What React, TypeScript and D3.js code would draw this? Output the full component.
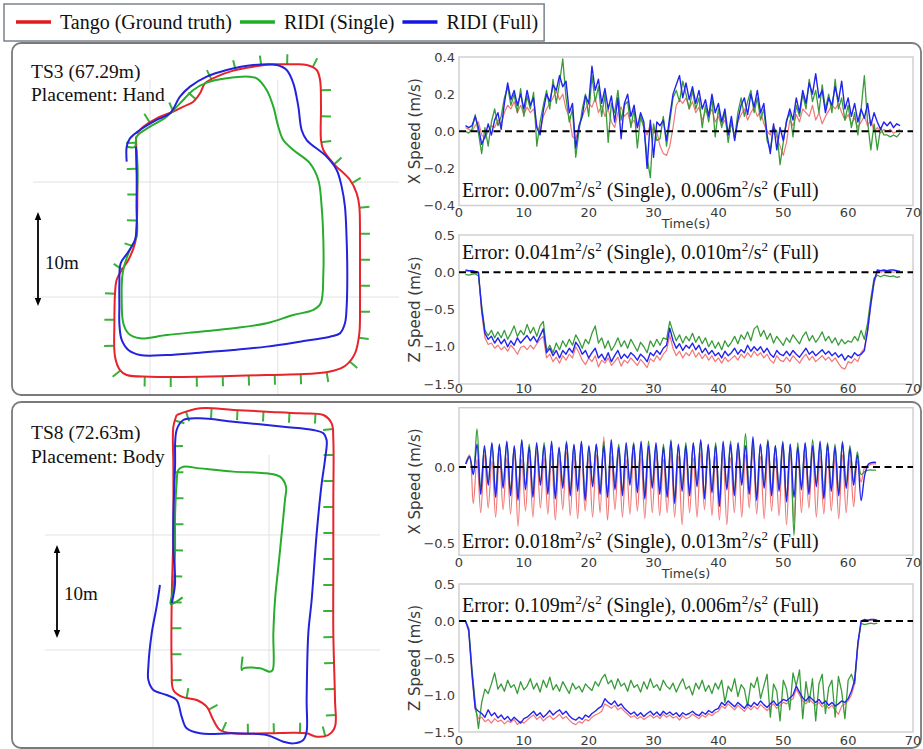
import React, { useEffect, useRef } from "react";
import * as d3 from "d3";

type Pt = [number, number];

// ---------------- legend ----------------
const LEGEND_LABELS = ["Tango (Ground truth)", "RIDI (Single)", "RIDI (Full)"];

// ---------------- trajectories (metres) ----------------
const TS3_TITLE = "TS3 (67.29m)";
const TS3_PLACEMENT = "Placement: Hand";
const TS8_TITLE = "TS8 (72.63m)";
const TS8_PLACEMENT = "Placement: Body";
const SCALE_LABEL = "10m";
const SCALE_BAR_M = 10;

const TS3_TANGO: Pt[] = [
  [-1.49, 17.06], [-1.42, 14.22], [-1.35, 11.38], [-1.42, 7.48], [-1.6, 5.71], [-2.3, 3.94], [-3.01, 2.87],
  [-3.55, 1.81], [-3.72, 0.39], [-3.79, -2.8], [-3.72, -6.35], [-3.19, -7.77], [-2.48, -8.3], [0, -8.48],
  [5.32, -8.48], [12.41, -8.3], [17.73, -8.12], [19.5, -7.84], [20.74, -7.34], [21.81, -5.99], [22.27, -3.87],
  [22.34, -1.03], [22.34, 2.52], [22.34, 6.06], [22.27, 9.61], [21.99, 11.03], [21.28, 12.45], [19.5, 14.22],
  [18.44, 15.64], [18.19, 16.7], [18.19, 20.25], [18.09, 23.09], [17.73, 24.15], [16.67, 24.68], [15.25, 24.75],
  [13.12, 24.75], [10.99, 24.5], [8.87, 24.08], [7.09, 23.44], [5.85, 22.73], [5.32, 21.67], [4.61, 20.78],
  [3.55, 20.25], [2.48, 19.72], [0.71, 19.01], [-0.71, 18.12], [-1.42, 17.41],
];
const TS3_SINGLE: Pt[] = [
  [-2.48, 15.99], [-1.6, 15.99], [-1.42, 17.06], [0, 18.12], [1.77, 19.18], [3.19, 20.6], [4.61, 22.02],
  [6.03, 22.8], [8.16, 23.26], [10.46, 23.44], [11.35, 23.26], [12.41, 22.02], [13.12, 20.25], [13.65, 18.12],
  [14.18, 16.7], [15.25, 15.64], [17.02, 14.22], [17.91, 12.45], [18.26, 9.61], [18.44, 6.06], [18.44, 2.52],
  [18.16, -0.67], [17.38, -1.38], [15.25, -1.91], [12.41, -2.8], [8.87, -3.33], [5.32, -3.69], [1.77, -4.04],
  [-1.06, -4.4], [-2.3, -3.87], [-2.84, -2.8], [-3.01, -0.32], [-2.91, 2.52], [-2.3, 4.65], [-1.77, 5.71],
  [-1.42, 6.42], [-1.42, 9.61], [-1.31, 13.16], [-1.42, 15.64],
];
const TS3_FULL: Pt[] = [
  [-2.48, 14.4], [-2.48, 15.99], [-2.13, 16.88], [-1.06, 17.77], [0.71, 18.83], [2.13, 19.54], [3.19, 21.31],
  [4.26, 22.38], [6.03, 23.44], [8.16, 24.15], [10.99, 24.68], [13.48, 24.68], [14.54, 24.15], [15.25, 22.73],
  [15.78, 20.25], [16.13, 17.77], [16.67, 16.7], [18.79, 14.93], [19.86, 13.51], [20.39, 11.74], [20.74, 9.61],
  [20.92, 6.06], [20.99, 2.52], [20.92, -1.03], [20.74, -2.8], [20.21, -3.87], [19.15, -4.22], [15.96, -4.75],
  [12.41, -5.28], [8.87, -5.64], [5.32, -5.92], [1.77, -6.17], [-1.06, -6.17], [-2.3, -5.64], [-3.01, -4.57],
  [-3.26, -2.8], [-3.26, -1.03], [-3.26, 1.45], [-3.12, 3.58], [-2.3, 4.82], [-1.6, 6.06], [-1.42, 7.48],
  [-1.42, 10.32], [-1.42, 13.16], [-1.49, 15.99],
];
const TS3_GRID_X = [0, 13.6];
const TS3_GRID_Y = [0, 12.23];
const TS3_BAR_START = -0.96;

const TS8_TANGO: Pt[] = [
  [2.54, 25.27], [5.05, 25.99], [8.64, 25.81], [12.22, 25.63], [15.81, 25.45], [18.32, 25.27], [19.21, 24.37],
  [19.39, 22.58], [19.39, 16.13], [19.39, 8.96], [19.39, 1.79], [19.57, -5.38], [19.57, -8.24], [18.85, -9.14],
  [17.6, -9.32], [16.52, -8.96], [15.09, -8.89], [12.22, -8.96], [8.64, -8.96], [7.2, -8.6], [6.49, -7.53],
  [5.77, -6.09], [4.7, -5.38], [3.08, -5.02], [2.19, -4.3], [2.01, -1.79], [2.01, 5.38], [2.19, 12.54],
  [2.19, 19.71], [2.19, 24.01], [2.54, 25.27],
];
const TS8_SINGLE: Pt[] = [
  [3.19, 5.66], [1.9, 4.95], [2.19, 6.45], [2.37, 10.75], [2.37, 14.34], [2.54, 17.92], [2.72, 19.35],
  [3.26, 19.71], [5.05, 19.53], [8.64, 19.18], [12.22, 19.0], [13.66, 18.64], [14.3, 17.56], [14.19, 16.13],
  [13.84, 12.54], [13.48, 8.96], [13.12, 5.38], [12.94, 1.79], [12.87, -2.15], [12.58, -2.33], [11.51, -1.97],
  [9.71, -1.97], [9.53, -2.15], [9.64, -0.72],
];
const TS8_FULL: Pt[] = [
  [0.75, 6.99], [0.39, 4.66], [-0.14, 1.79], [-0.5, -1.79], [-0.5, -3.23], [0.04, -4.3], [1.47, -4.84],
  [2.54, -5.38], [3.08, -7.17], [3.62, -8.42], [5.05, -8.96], [8.64, -8.96], [12.22, -9.14], [14.01, -9.86],
  [15.09, -10.04], [16.16, -9.68], [16.52, -8.78], [16.52, -5.38], [16.7, 1.79], [17.06, 5.38], [17.6, 12.54],
  [18.14, 17.92], [18.49, 20.43], [18.67, 22.58], [18.32, 23.3], [17.24, 23.66], [14.01, 24.01], [8.64, 24.55],
  [5.05, 24.91], [3.26, 24.73], [2.54, 23.66], [2.37, 19.71], [2.19, 14.34], [2.19, 10.75], [2.37, 7.17],
  [2.01, 5.02],
];
const TS8_GRID_X = [0, 12.47];
const TS8_GRID_Y = [0, 12.37];
const TS8_BAR_START = 1.29;

// ---------------- speed plots ----------------
const TIME_TICKS = [0, 10, 20, 30, 40, 50, 60, 70];
const TIME_LABEL = "Time(s)";

// TS3 X speed, t = 1.0 .. 68.0 every 0.5 s
const TS3_X_T0 = 1.0;
const TS3_X_DT = 0.5;
const TS3_X_TANGO = [
  0.02, 0.01, 0.0, 0.03, 0.05, -0.02, -0.04, 0.0, 0.03, 0.02,
  0.06, 0.04, 0.1, 0.14, 0.12, 0.16, 0.1, 0.14, 0.09, 0.13,
  0.1, 0.12, 0.03, 0.0, 0.08, 0.12, 0.15, 0.18, 0.22, 0.17,
  0.2, 0.12, 0.08, -0.03, -0.04, 0.02, 0.08, 0.12, 0.15, 0.13,
  0.18, 0.1, 0.14, 0.08, 0.12, 0.05, 0.02, 0.1, 0.13, 0.08,
  0.1, 0.04, 0.06, 0.02, 0.07, 0.03, -0.02, 0.04, -0.01, 0.0,
  -0.08, -0.12, -0.13, -0.08, 0.02, 0.14, 0.17, 0.15, 0.18, 0.12,
  0.16, 0.1, 0.13, 0.06, 0.11, 0.08, 0.12, 0.05, 0.08, 0.03,
  0.06, 0.0, 0.04, -0.02, 0.05, 0.09, 0.12, 0.06, 0.1, 0.13,
  0.08, 0.11, 0.04, 0.0, -0.02, 0.03, -0.03, -0.08, -0.13, -0.06,
  0.06, 0.03, 0.09, 0.05, 0.12, 0.1, 0.08, 0.14, 0.06, 0.1,
  0.04, 0.08, 0.11, 0.14, 0.12, 0.15, 0.1, 0.06, 0.09, 0.04,
  0.07, 0.02, 0.05, 0.08, 0.03, 0.06, 0.0, 0.02, -0.01, 0.01,
  0.0, 0.01, -0.01, 0.0, 0.01,
];
const TS3_X_SINGLE = [
  0.0, -0.01, 0.01, 0.09, -0.01, -0.12, 0.02, -0.08, 0.05, 0.12,
  0.03, 0.08, 0.18, 0.24, 0.14, 0.2, 0.1, 0.23, 0.08, 0.19,
  0.12, 0.21, -0.08, 0.05, 0.14, 0.22, 0.12, 0.28, 0.15, 0.26,
  0.39, 0.18, 0.05, 0.12, -0.14, 0.0, 0.12, 0.2, 0.08, 0.3,
  0.16, 0.24, 0.08, 0.2, -0.06, 0.15, 0.1, 0.22, 0.06, 0.14,
  0.16, 0.02, 0.12, -0.09, 0.08, 0.02, -0.14, -0.25, 0.04, -0.05,
  -0.04, 0.08, -0.08, 0.05, 0.18, 0.22, 0.16, 0.27, 0.2, 0.12,
  0.22, 0.12, 0.18, 0.02, 0.14, 0.05, 0.18, -0.03, 0.12, 0.02,
  0.1, -0.06, 0.05, -0.04, 0.1, 0.18, 0.08, 0.16, 0.22, 0.1,
  0.18, 0.06, 0.12, -0.05, -0.1, 0.02, 0.0, -0.18, -0.06, 0.06,
  0.1, -0.03, 0.14, 0.08, 0.2, 0.12, 0.28, 0.16, 0.22, 0.1,
  0.25, 0.12, 0.2, 0.1, 0.28, 0.12, 0.18, 0.06, 0.14, 0.02,
  0.1, -0.02, 0.12, 0.3, 0.05, -0.1, 0.04, -0.1, 0.02, -0.02,
  -0.02, -0.03, -0.02, -0.03, -0.01,
];
const TS3_X_FULL = [
  0.03, 0.02, 0.03, 0.08, 0.02, -0.07, -0.03, 0.04, -0.02, 0.06,
  0.1, 0.01, 0.15, 0.26, 0.17, 0.22, 0.14, 0.2, 0.12, 0.22,
  0.14, 0.18, 0.02, -0.02, 0.11, 0.2, 0.16, 0.25, 0.22, 0.3,
  0.24, 0.27, 0.1, 0.15, -0.09, 0.03, 0.08, 0.19, 0.15, 0.35,
  0.22, 0.28, 0.15, 0.23, 0.12, 0.19, 0.05, 0.18, -0.04, 0.15,
  0.2, 0.08, 0.14, 0.02, 0.1, 0.05, -0.2, 0.06, -0.14, 0.05,
  0.03, 0.06, -0.05, 0.08, 0.2, 0.25, 0.3, 0.18, 0.26, 0.17,
  0.24, 0.15, 0.22, 0.12, 0.17, 0.08, 0.2, 0.1, 0.15, 0.05,
  0.12, -0.02, 0.08, -0.05, 0.06, 0.14, 0.18, 0.09, 0.2, 0.13,
  0.22, 0.1, 0.15, -0.02, -0.12, 0.04, -0.1, 0.02, -0.05, 0.05,
  0.12, 0.06, 0.18, 0.1, 0.22, 0.15, 0.26, 0.2, 0.31, 0.18,
  0.22, 0.1, 0.18, 0.14, 0.24, 0.16, 0.27, 0.12, 0.18, 0.08,
  0.15, 0.05, 0.12, 0.07, 0.15, 0.03, 0.1, 0.05, 0.01, 0.05,
  0.03, 0.05, 0.02, 0.04, 0.03,
];

// TS3 Z speed, t = 1.0 .. 68.0 every 0.5 s
const TS3_Z_T0 = 1.0;
const TS3_Z_DT = 0.5;
const TS3_Z_TANGO = [
  0.01, 0.02, 0.01, 0.0, -0.02, -0.55, -0.88, -0.97, -0.95, -1.02,
  -0.98, -1.04, -1.0, -1.06, -0.98, -1.03, -1.1, -1.01, -0.99, -1.04,
  -0.98, -1.03, -0.96, -0.9, -0.86, -1.15, -1.1, -1.2, -1.14, -1.22,
  -1.12, -1.18, -1.1, -1.15, -1.0, -1.08, -1.18, -1.24, -1.15, -1.2,
  -1.12, -1.27, -1.18, -1.22, -1.15, -1.25, -1.2, -1.14, -1.26, -1.18,
  -1.22, -1.15, -1.2, -1.25, -1.17, -1.22, -1.28, -1.16, -1.2, -1.12,
  -1.18, -1.1, -1.05, -0.85, -1.02, -1.12, -1.06, -1.15, -1.08, -1.12,
  -1.04, -1.14, -1.08, -1.16, -1.1, -1.18, -1.12, -1.2, -1.15, -1.22,
  -1.14, -1.2, -1.16, -1.12, -1.18, -1.1, -1.15, -1.08, -1.14, -1.06,
  -1.12, -1.08, -1.15, -1.1, -1.18, -1.22, -1.12, -1.18, -1.2, -1.14,
  -1.2, -1.12, -1.17, -1.22, -1.15, -1.1, -1.18, -1.13, -1.2, -1.16,
  -1.12, -1.18, -1.14, -1.2, -1.15, -1.22, -1.28, -1.3, -1.2, -1.22,
  -1.16, -1.2, -1.08, -1.02, -0.8, -0.45, -0.15, 0.01, 0.0, 0.01,
  0.0, 0.01, 0.0, 0.01, 0.0,
];
const TS3_Z_SINGLE = [
  -0.03, -0.04, -0.03, -0.02, -0.05, -0.45, -0.78, -0.85, -0.78, -0.88,
  -0.8, -0.88, -0.78, -0.9, -0.82, -0.72, -0.86, -0.78, -0.84, -0.7,
  -0.82, -0.74, -0.86, -0.72, -0.66, -1.05, -0.98, -1.08, -0.95, -1.04,
  -0.92, -1.0, -0.9, -0.98, -0.84, -0.92, -1.02, -0.9, -0.96, -0.82,
  -0.72, -0.95, -0.88, -1.02, -0.92, -1.05, -0.98, -0.88, -1.0, -0.92,
  -1.02, -0.9, -0.98, -1.06, -0.94, -1.0, -1.08, -0.92, -1.0, -0.9,
  -0.98, -0.88, -0.9, -0.66, -0.8, -0.92, -0.84, -0.95, -0.86, -0.92,
  -0.82, -0.94, -0.86, -0.96, -0.88, -1.0, -0.92, -1.02, -0.94, -1.04,
  -0.92, -1.0, -0.94, -0.86, -0.96, -0.84, -0.9, -0.8, -0.92, -0.76,
  -0.72, -0.86, -0.78, -0.9, -0.82, -0.95, -0.86, -0.92, -0.98, -0.88,
  -0.94, -0.84, -0.9, -0.96, -0.86, -0.8, -0.92, -0.85, -0.94, -0.88,
  -0.8, -0.92, -0.86, -0.95, -0.88, -0.98, -0.9, -0.96, -0.92, -0.94,
  -0.86, -0.92, -0.78, -0.9, -0.68, -0.35, -0.08, -0.04, -0.06, -0.04,
  -0.05, -0.06, -0.05, -0.07, -0.06,
];
const TS3_Z_FULL = [
  0.03, 0.02, 0.02, 0.01, 0.0, -0.5, -0.82, -0.9, -0.86, -0.95,
  -0.88, -0.96, -0.9, -1.0, -0.92, -0.98, -0.88, -0.95, -0.9, -0.85,
  -0.92, -0.86, -0.94, -0.85, -0.76, -1.08, -1.02, -1.12, -1.05, -1.15,
  -1.05, -1.1, -1.02, -1.08, -0.94, -1.0, -1.1, -1.05, -1.15, -1.08,
  -1.02, -1.15, -1.1, -1.18, -1.08, -1.2, -1.12, -1.05, -1.16, -1.1,
  -1.15, -1.08, -1.12, -1.18, -1.1, -1.14, -1.2, -1.08, -1.12, -1.05,
  -1.1, -1.02, -0.98, -0.75, -0.92, -1.02, -0.96, -1.05, -0.98, -1.02,
  -0.95, -1.04, -0.98, -1.08, -1.02, -1.1, -1.05, -1.12, -1.08, -1.15,
  -1.06, -1.12, -1.08, -1.02, -1.1, -1.04, -1.08, -0.98, -1.06, -1.0,
  -1.05, -1.0, -1.08, -1.02, -1.1, -1.14, -1.05, -1.1, -1.12, -1.06,
  -1.12, -1.05, -1.1, -1.14, -1.08, -1.02, -1.1, -1.06, -1.12, -1.08,
  -1.04, -1.1, -1.06, -1.12, -1.08, -1.14, -1.1, -1.18, -1.12, -1.15,
  -1.08, -1.12, -1.1, -1.05, -0.78, -0.42, -0.12, 0.03, 0.02, 0.03,
  0.02, 0.03, 0.03, 0.02, 0.01,
];

// TS8 X speed: swing extremes, t = 1.05 + 0.575 i
const TS8_X_T0 = 1.05;
const TS8_X_DT = 0.575;
const TS8_X_TANGO = [
  0.03, 0.08,
  -0.24, 0.05, -0.3, 0.08, -0.27, 0.04, -0.33, 0.09, -0.28, 0.06, -0.31, 0.1, -0.39, 0.05, -0.29, 0.08, -0.33, 0.11, -0.27, 0.06,
  -0.31, 0.09, -0.35, 0.05, -0.28, 0.1, -0.32, 0.07, -0.34, 0.12, -0.29, 0.06, -0.33, 0.08, -0.3, 0.2, -0.35, 0.07, -0.28, 0.09,
  -0.33, 0.05, -0.31, 0.1, -0.29, 0.06, -0.34, 0.11, -0.3, 0.08, -0.32, 0.05, -0.3, 0.09, -0.33, 0.07, -0.38, 0.1, -0.3, 0.06,
  -0.33, 0.09, -0.28, 0.12, -0.32, 0.07, -0.35, 0.1, -0.38, 0.06, -0.3, 0.11, -0.33, 0.08, -0.27, 0.12, -0.31, 0.07, -0.34, 0.1,
  -0.29, 0.06, -0.32, 0.14, -0.38, 0.09, -0.36, 0.12, -0.3, 0.08, -0.27, 0.1, -0.33, 0.07, -0.31, 0.09, -0.29, 0.06, -0.34, 0.08,
  -0.3, 0.05, -0.26, 0.04,
  -0.1, 0.0, 0.01, 0.02, 0.02,
];
const TS8_X_SINGLE = [
  0.02, 0.06,
  -0.04, 0.25, -0.14, 0.12, -0.1, 0.15, -0.16, 0.14, -0.11, 0.16, -0.15, 0.13, -0.18, 0.17, -0.12, 0.15, -0.17, 0.14, -0.1, 0.16,
  -0.15, 0.15, -0.18, 0.12, -0.11, 0.17, -0.16, 0.14, -0.13, 0.16, -0.19, 0.13, -0.1, 0.15, -0.15, 0.17, -0.17, 0.14, -0.12, 0.15,
  -0.16, 0.13, -0.1, 0.16, -0.14, 0.15, -0.18, 0.17, -0.12, 0.14, -0.15, 0.15, -0.17, 0.18, -0.2, 0.14, -0.13, 0.16, -0.16, 0.15,
  -0.11, 0.17, -0.18, 0.14, -0.15, 0.16, -0.22, 0.15, -0.13, 0.17, -0.16, 0.14, -0.1, 0.22, -0.15, 0.16, -0.19, 0.15, -0.12, 0.18,
  -0.16, 0.14, -0.14, 0.17, -0.2, 0.15, -0.45, 0.16, -0.13, 0.15, -0.16, 0.18, -0.11, 0.14, -0.18, 0.16, -0.14, 0.15, -0.17, 0.17,
  -0.12, 0.14, -0.1, 0.1,
  -0.05, -0.03, -0.02, -0.02, -0.02,
];
const TS8_X_FULL = [
  0.02, 0.07,
  -0.05, 0.15, -0.18, 0.14, -0.12, 0.16, -0.2, 0.15, -0.14, 0.17, -0.19, 0.14, -0.22, 0.18, -0.15, 0.13, -0.2, 0.16, -0.12, 0.14,
  -0.18, 0.17, -0.21, 0.13, -0.14, 0.16, -0.19, 0.15, -0.16, 0.17, -0.22, 0.14, -0.13, 0.15, -0.18, 0.14, -0.2, 0.18, -0.15, 0.13,
  -0.19, 0.16, -0.12, 0.15, -0.17, 0.17, -0.21, 0.14, -0.14, 0.16, -0.18, 0.13, -0.2, 0.17, -0.24, 0.15, -0.16, 0.14, -0.19, 0.16,
  -0.13, 0.18, -0.21, 0.15, -0.17, 0.14, -0.26, 0.17, -0.15, 0.15, -0.19, 0.16, -0.12, 0.14, -0.18, 0.2, -0.22, 0.15, -0.14, 0.17,
  -0.19, 0.14, -0.16, 0.16, -0.23, 0.15, -0.2, 0.13, -0.15, 0.16, -0.18, 0.14, -0.13, 0.17, -0.21, 0.15, -0.16, 0.13, -0.19, 0.16,
  -0.14, 0.12, -0.12, 0.08,
  -0.22, -0.05, 0.02, 0.03, 0.03,
];

// TS8 Z speed, t = 0.5 .. 64.5 every 0.5 s
const TS8_Z_T0 = 0.5;
const TS8_Z_DT = 0.5;
const TS8_Z_TANGO = [
  0.0, 0.0, -0.15, -0.75, -1.2, -1.32, -1.3, -1.36, -1.33, -1.38,
  -1.32, -1.36, -1.34, -1.39, -1.35, -1.37, -1.33, -1.4, -1.36, -1.38,
  -1.34, -1.3, -1.27, -1.33, -1.29, -1.35, -1.31, -1.28, -1.33, -1.3,
  -1.26, -1.32, -1.29, -1.34, -1.38, -1.4, -1.36, -1.38, -1.33, -1.35,
  -1.3, -1.27, -1.25, -1.22, -1.12, -1.15, -1.18, -1.14, -1.2, -1.17,
  -1.22, -1.26, -1.3, -1.28, -1.32, -1.29, -1.33, -1.3, -1.27, -1.31,
  -1.28, -1.32, -1.26, -1.3, -1.27, -1.31, -1.29, -1.34, -1.28, -1.32,
  -1.3, -1.26, -1.29, -1.32, -1.27, -1.3, -1.25, -1.28, -1.24, -1.22,
  -1.15, -1.18, -1.12, -1.16, -1.2, -1.14, -1.18, -1.22, -1.16, -1.2,
  -1.15, -1.19, -1.13, -1.17, -1.21, -1.16, -1.12, -1.18, -1.14, -1.1,
  -1.12, -1.08, -1.05, -0.92, -1.0, -1.08, -1.12, -1.06, -1.1, -1.14,
  -1.1, -1.16, -1.12, -1.18, -1.14, -1.2, -1.26, -1.15, -1.12, -1.08,
  -1.0, -0.85, -0.35, 0.0, 0.01, 0.0, 0.01, 0.01, 0.0,
];
const TS8_Z_SINGLE = [
  0.0, 0.0, -0.1, -0.65, -1.1, -1.45, -1.1, -0.92, -0.98, -0.85,
  -0.7, -0.92, -0.85, -0.95, -0.8, -0.9, -0.86, -0.98, -0.82, -0.93,
  -0.88, -0.78, -0.92, -0.84, -0.96, -0.8, -0.9, -0.76, -0.93, -0.86,
  -0.95, -0.82, -0.9, -0.98, -0.84, -0.92, -0.88, -0.96, -0.85, -0.9,
  -0.94, -0.82, -0.88, -0.78, -0.72, -0.85, -0.8, -0.92, -0.78, -0.88,
  -0.84, -0.95, -0.8, -0.9, -0.86, -0.96, -0.82, -0.92, -0.78, -0.9,
  -0.86, -0.94, -0.8, -0.88, -0.92, -0.84, -0.96, -0.86, -0.78, -0.92,
  -0.88, -1.0, -0.84, -0.92, -0.8, -0.95, -0.87, -0.98, -0.84, -0.92,
  -0.8, -1.1, -0.88, -0.95, -0.78, -1.02, -0.86, -0.92, -1.15, -0.84,
  -0.9, -0.76, -1.05, -0.88, -0.72, -1.3, -0.85, -0.95, -1.35, -0.8,
  -0.92, -1.2, -0.7, -0.88, -0.66, -1.32, -0.82, -1.1, -0.78, -1.35,
  -0.85, -0.72, -1.25, -0.9, -0.8, -1.3, -0.75, -0.95, -1.32, -0.8,
  -0.72, -0.85, -0.3, -0.03, -0.05, -0.04, -0.03, -0.04, -0.03,
];
const TS8_Z_FULL = [
  0.0, 0.0, -0.12, -0.7, -1.18, -1.22, -1.25, -1.3, -1.2, -1.28,
  -1.24, -1.31, -1.27, -1.33, -1.29, -1.35, -1.3, -1.34, -1.38, -1.32,
  -1.3, -1.26, -1.22, -1.28, -1.24, -1.3, -1.26, -1.21, -1.27, -1.23,
  -1.2, -1.26, -1.22, -1.28, -1.32, -1.34, -1.3, -1.33, -1.27, -1.3,
  -1.25, -1.22, -1.18, -1.15, -1.05, -1.1, -1.13, -1.08, -1.15, -1.12,
  -1.18, -1.22, -1.26, -1.23, -1.28, -1.24, -1.29, -1.25, -1.22, -1.27,
  -1.23, -1.28, -1.22, -1.26, -1.23, -1.27, -1.24, -1.29, -1.24, -1.27,
  -1.25, -1.22, -1.26, -1.28, -1.23, -1.26, -1.21, -1.24, -1.2, -1.18,
  -1.1, -1.14, -1.08, -1.12, -1.16, -1.1, -1.14, -1.18, -1.12, -1.16,
  -1.1, -1.14, -1.08, -1.13, -1.17, -1.12, -1.08, -1.14, -1.1, -1.06,
  -1.08, -1.04, -1.0, -0.88, -0.96, -1.04, -1.08, -1.02, -1.06, -1.1,
  -1.06, -1.12, -1.08, -1.14, -1.1, -1.15, -1.12, -1.08, -1.1, -1.05,
  -0.95, -0.8, -0.3, 0.0, 0.02, 0.01, 0.02, 0.02, 0.01,
];

const X_SPEED_TICKS_TS3 = [-0.4, -0.2, 0, 0.2, 0.4];
const Z_SPEED_TICKS = [-1.5, -1.0, -0.5, 0, 0.5];
const X_SPEED_TICKS_TS8 = [-0.5, 0];
const X_LABEL = "X Speed (m/s)";
const Z_LABEL = "Z Speed (m/s)";
const ERR_TS3_X = ["0.007", "0.006"];
const ERR_TS3_Z = ["0.041", "0.010"];
const ERR_TS8_X = ["0.018", "0.013"];
const ERR_TS8_Z = ["0.109", "0.006"];

// ---------------- styling ----------------
const SERIF = "'Liberation Serif', 'Times New Roman', serif";
const SANS = "'DejaVu Sans', sans-serif";
const LEG_COLORS = ["#e3191c", "#1faf24", "#1414e3"];
const TRAJ_COLORS = { tango: "#e8232a", single: "#27ad2c", full: "#2323dd", tick: "#3bb03b" };
const TS_COLORS = { tango: "#f06868", single: "#3a9b3a", full: "#2323f0" };

type Sel = d3.Selection<any, unknown, null, undefined>;

function drawTrajectory(root: Sel, cfg: any) {
  const g = root.append("g");
  const x = d3.scaleLinear().domain([0, 10]).range([cfg.ox, cfg.ox + cfg.px10]);
  const y = d3.scaleLinear().domain([0, 10]).range([cfg.oy, cfg.oy - cfg.px10]);
  cfg.gridX.forEach((v: number) =>
    g.append("line").attr("x1", x(v)).attr("x2", x(v)).attr("y1", cfg.gridTop).attr("y2", cfg.gridBottom)
      .attr("stroke", "#e2e2e2").attr("stroke-width", 1));
  cfg.gridY.forEach((v: number) =>
    g.append("line").attr("y1", y(v)).attr("y2", y(v)).attr("x1", cfg.gridLeft).attr("x2", cfg.gridRight)
      .attr("stroke", "#e2e2e2").attr("stroke-width", 1));

  const line = d3.line<Pt>().x((d) => x(d[0])).y((d) => y(d[1])).curve(d3.curveCatmullRom.alpha(0.5));
  const tickG = g.append("g");
  const red = g.append("path").attr("d", line(cfg.tango) as string).attr("fill", "none")
    .attr("stroke", TRAJ_COLORS.tango).attr("stroke-width", 2).attr("stroke-linejoin", "round");
  g.append("path").attr("d", line(cfg.single) as string).attr("fill", "none")
    .attr("stroke", TRAJ_COLORS.single).attr("stroke-width", 2).attr("stroke-linejoin", "round");
  g.append("path").attr("d", line(cfg.full) as string).attr("fill", "none")
    .attr("stroke", TRAJ_COLORS.full).attr("stroke-width", 2).attr("stroke-linejoin", "round");

  const node = red.node() as SVGPathElement;
  const L = node.getTotalLength();
  for (let s = cfg.tickOffset; s < L - 4; s += 26) {
    const p = node.getPointAtLength(s);
    const a = node.getPointAtLength(Math.max(0, s - 2));
    const b = node.getPointAtLength(Math.min(L, s + 2));
    let tx = b.x - a.x, ty = b.y - a.y;
    const n = Math.hypot(tx, ty) || 1;
    tx /= n; ty /= n;
    const nx = -ty, ny = tx;
    tickG.append("line").attr("x1", p.x).attr("y1", p.y).attr("x2", p.x + nx * 10).attr("y2", p.y + ny * 10)
      .attr("stroke", TRAJ_COLORS.tick).attr("stroke-width", 2);
  }

  // scale bar
  const y1 = y(cfg.barStart + SCALE_BAR_M), y2 = y(cfg.barStart);
  const bx = cfg.barX;
  g.append("line").attr("x1", bx).attr("x2", bx).attr("y1", y1 + 4).attr("y2", y2 - 4)
    .attr("stroke", "#000").attr("stroke-width", 1.8);
  g.append("path").attr("d", `M${bx},${y1} L${bx - 3.2},${y1 + 8} L${bx + 3.2},${y1 + 8} Z`).attr("fill", "#000");
  g.append("path").attr("d", `M${bx},${y2} L${bx - 3.2},${y2 - 8} L${bx + 3.2},${y2 - 8} Z`).attr("fill", "#000");
  g.append("text").attr("x", cfg.barLabelX).attr("y", cfg.barLabelY).attr("font-family", SERIF)
    .attr("font-size", 19).attr("fill", "#111").text(SCALE_LABEL);

  g.append("text").attr("x", 31).attr("y", cfg.titleY).attr("font-family", SERIF).attr("font-size", 19.5)
    .attr("fill", "#111").text(cfg.title);
  g.append("text").attr("x", 31).attr("y", cfg.titleY + 23.5).attr("font-family", SERIF).attr("font-size", 19.5)
    .attr("fill", "#111").text(cfg.placement);
}

let clipCounter = 0;
function drawSpeed(root: Sel, defs: Sel, cfg: any) {
  const g = root.append("g");
  const x = d3.scaleLinear().domain([0, 70]).range([459, 913]);
  const y = d3.scaleLinear().domain(cfg.domain).range([cfg.bottom, cfg.top]);
  g.append("rect").attr("x", 459).attr("y", cfg.top).attr("width", 454).attr("height", cfg.bottom - cfg.top)
    .attr("fill", "#fff").attr("stroke", "#cdcdcd").attr("stroke-width", 1.4);
  const id = `clip${clipCounter++}`;
  defs.append("clipPath").attr("id", id).append("rect").attr("x", 459).attr("y", cfg.top)
    .attr("width", 454).attr("height", cfg.bottom - cfg.top);
  const lg = g.append("g").attr("clip-path", `url(#${id})`);
  const series = [
    { v: cfg.tango, c: TS_COLORS.tango, w: 1.2, o: 0.9 },
    { v: cfg.single, c: TS_COLORS.single, w: 1.3, o: 1 },
    { v: cfg.full, c: TS_COLORS.full, w: 1.4, o: 1 },
  ];
  series.forEach((s) => {
    const line = d3.line<number>().x((_, i) => x(cfg.t0 + i * cfg.dt)).y((d) => y(d)).curve(cfg.curve);
    lg.append("path").attr("d", line(s.v) as string).attr("fill", "none").attr("stroke", s.c)
      .attr("stroke-width", s.w).attr("stroke-opacity", s.o).attr("stroke-linejoin", "round");
  });
  g.append("line").attr("x1", x(0)).attr("x2", x(70)).attr("y1", y(0)).attr("y2", y(0))
    .attr("stroke", "#000").attr("stroke-width", 2).attr("stroke-dasharray", "7,4.5");

  const fmt = d3.format(".1f");
  cfg.yTicks.forEach((v: number) =>
    g.append("text").attr("x", 455).attr("y", y(v)).attr("dy", "0.36em").attr("text-anchor", "end")
      .attr("font-family", SANS).attr("font-size", 13).attr("fill", "#3a3a3a").text(fmt(v)));
  TIME_TICKS.forEach((v) =>
    g.append("text").attr("x", x(v)).attr("y", cfg.xTickY).attr("text-anchor", "middle")
      .attr("font-family", SANS).attr("font-size", 13).attr("fill", "#3a3a3a").text(String(v)));
  if (cfg.showTime)
    g.append("text").attr("x", x(35)).attr("y", cfg.xTickY + 11).attr("text-anchor", "middle")
      .attr("font-family", SANS).attr("font-size", 13).attr("fill", "#3a3a3a").text(TIME_LABEL);
  const cy = (cfg.top + cfg.bottom) / 2;
  g.append("text").attr("transform", `translate(415,${cy}) rotate(-90)`).attr("text-anchor", "middle")
    .attr("dy", "0.35em").attr("font-family", SANS).attr("font-size", 15).attr("fill", "#3a3a3a").text(cfg.label);

  const t = g.append("text").attr("x", 462).attr("y", cfg.errY).attr("font-family", SERIF)
    .attr("font-size", 20).attr("fill", "#111");
  const segs: [string, boolean][] = [
    [`Error: ${cfg.err[0]}m`, false], ["2", true], ["/s", false], ["2", true],
    [` (Single), ${cfg.err[1]}m`, false], ["2", true], ["/s", false], ["2", true], [" (Full)", false],
  ];
  let prevSup = false;
  segs.forEach(([s, sup]) => {
    const ts = t.append("tspan").text(s);
    if (sup) ts.attr("font-size", 13).attr("dy", -8);
    else if (prevSup) ts.attr("dy", 8);
    prevSup = sup;
  });
}

function drawAll(svgEl: SVGSVGElement) {
  const svg = d3.select(svgEl);
  svg.selectAll("*").remove();
  const defs = svg.append("defs");
  svg.append("rect").attr("width", 923).attr("height", 749).attr("fill", "#fff");

  // panels
  svg.append("rect").attr("x", 12).attr("y", 43).attr("width", 909).attr("height", 352).attr("rx", 9)
    .attr("fill", "#fff").attr("stroke", "#7a7a7a").attr("stroke-width", 1.8);
  svg.append("rect").attr("x", 12).attr("y", 402).attr("width", 909).attr("height", 346).attr("rx", 9)
    .attr("fill", "#fff").attr("stroke", "#7a7a7a").attr("stroke-width", 1.8);

  // legend
  const lg = svg.append("g");
  const box = lg.append("rect").attr("x", 4).attr("y", 4).attr("height", 37).attr("fill", "#fff")
    .attr("stroke", "#6f7a85").attr("stroke-width", 1.4);
  let cx = 16;
  LEGEND_LABELS.forEach((lab, i) => {
    lg.append("line").attr("x1", cx).attr("x2", cx + 35).attr("y1", 22).attr("y2", 22)
      .attr("stroke", LEG_COLORS[i]).attr("stroke-width", 3.5);
    const t = lg.append("text").attr("x", cx + 44).attr("y", 28.5).attr("font-family", SERIF)
      .attr("font-size", 20).attr("fill", "#111").text(lab);
    const w = (t.node() as SVGTextElement).getComputedTextLength();
    cx = cx + 44 + w + 8;
  });
  box.attr("width", cx - 4 - 2);

  drawTrajectory(svg, {
    ox: 150, oy: 297, px10: 94, gridX: TS3_GRID_X, gridY: TS3_GRID_Y, gridTop: 80, gridBottom: 394,
    gridLeft: 33, gridRight: 399, tango: TS3_TANGO, single: TS3_SINGLE, full: TS3_FULL, tickOffset: 6,
    barStart: TS3_BAR_START, barX: 38, barLabelX: 45, barLabelY: 269, title: TS3_TITLE,
    placement: TS3_PLACEMENT, titleY: 77.5,
  });
  drawTrajectory(svg, {
    ox: 153, oy: 650, px10: 93, gridX: TS8_GRID_X, gridY: TS8_GRID_Y, gridTop: 455, gridBottom: 747,
    gridLeft: 45, gridRight: 380, tango: TS8_TANGO, single: TS8_SINGLE, full: TS8_FULL, tickOffset: 10,
    barStart: TS8_BAR_START, barX: 57, barLabelX: 64, barLabelY: 600, title: TS8_TITLE,
    placement: TS8_PLACEMENT, titleY: 439,
  });

  drawSpeed(svg, defs, {
    domain: [-0.4, 0.4], top: 57, bottom: 205.5, yTicks: X_SPEED_TICKS_TS3, label: X_LABEL,
    tango: TS3_X_TANGO, single: TS3_X_SINGLE, full: TS3_X_FULL, t0: TS3_X_T0, dt: TS3_X_DT,
    curve: d3.curveLinear, xTickY: 217, showTime: true, err: ERR_TS3_X, errY: 197,
  });
  drawSpeed(svg, defs, {
    domain: [-1.5, 0.5], top: 235, bottom: 384, yTicks: Z_SPEED_TICKS, label: Z_LABEL,
    tango: TS3_Z_TANGO, single: TS3_Z_SINGLE, full: TS3_Z_FULL, t0: TS3_Z_T0, dt: TS3_Z_DT,
    curve: d3.curveLinear, xTickY: 393, showTime: false, err: ERR_TS3_Z, errY: 259,
  });
  drawSpeed(svg, defs, {
    domain: [-0.58, 0.39], top: 407.7, bottom: 555.2, yTicks: X_SPEED_TICKS_TS8, label: X_LABEL,
    tango: TS8_X_TANGO, single: TS8_X_SINGLE, full: TS8_X_FULL, t0: TS8_X_T0, dt: TS8_X_DT,
    curve: d3.curveCatmullRom, xTickY: 567, showTime: true, err: ERR_TS8_X, errY: 548,
  });
  drawSpeed(svg, defs, {
    domain: [-1.5, 0.5], top: 584, bottom: 732, yTicks: Z_SPEED_TICKS, label: Z_LABEL,
    tango: TS8_Z_TANGO, single: TS8_Z_SINGLE, full: TS8_Z_FULL, t0: TS8_Z_T0, dt: TS8_Z_DT,
    curve: d3.curveLinear, xTickY: 745, showTime: false, err: ERR_TS8_Z, errY: 612,
  });
}

export default function App() {
  const ref = useRef<SVGSVGElement | null>(null);
  useEffect(() => {
    if (ref.current) drawAll(ref.current);
  }, []);
  return (
    <svg ref={ref} width={923} height={749}
      style={{ position: "absolute", left: 0, top: 0, display: "block", background: "#fff" }} />
  );
}
